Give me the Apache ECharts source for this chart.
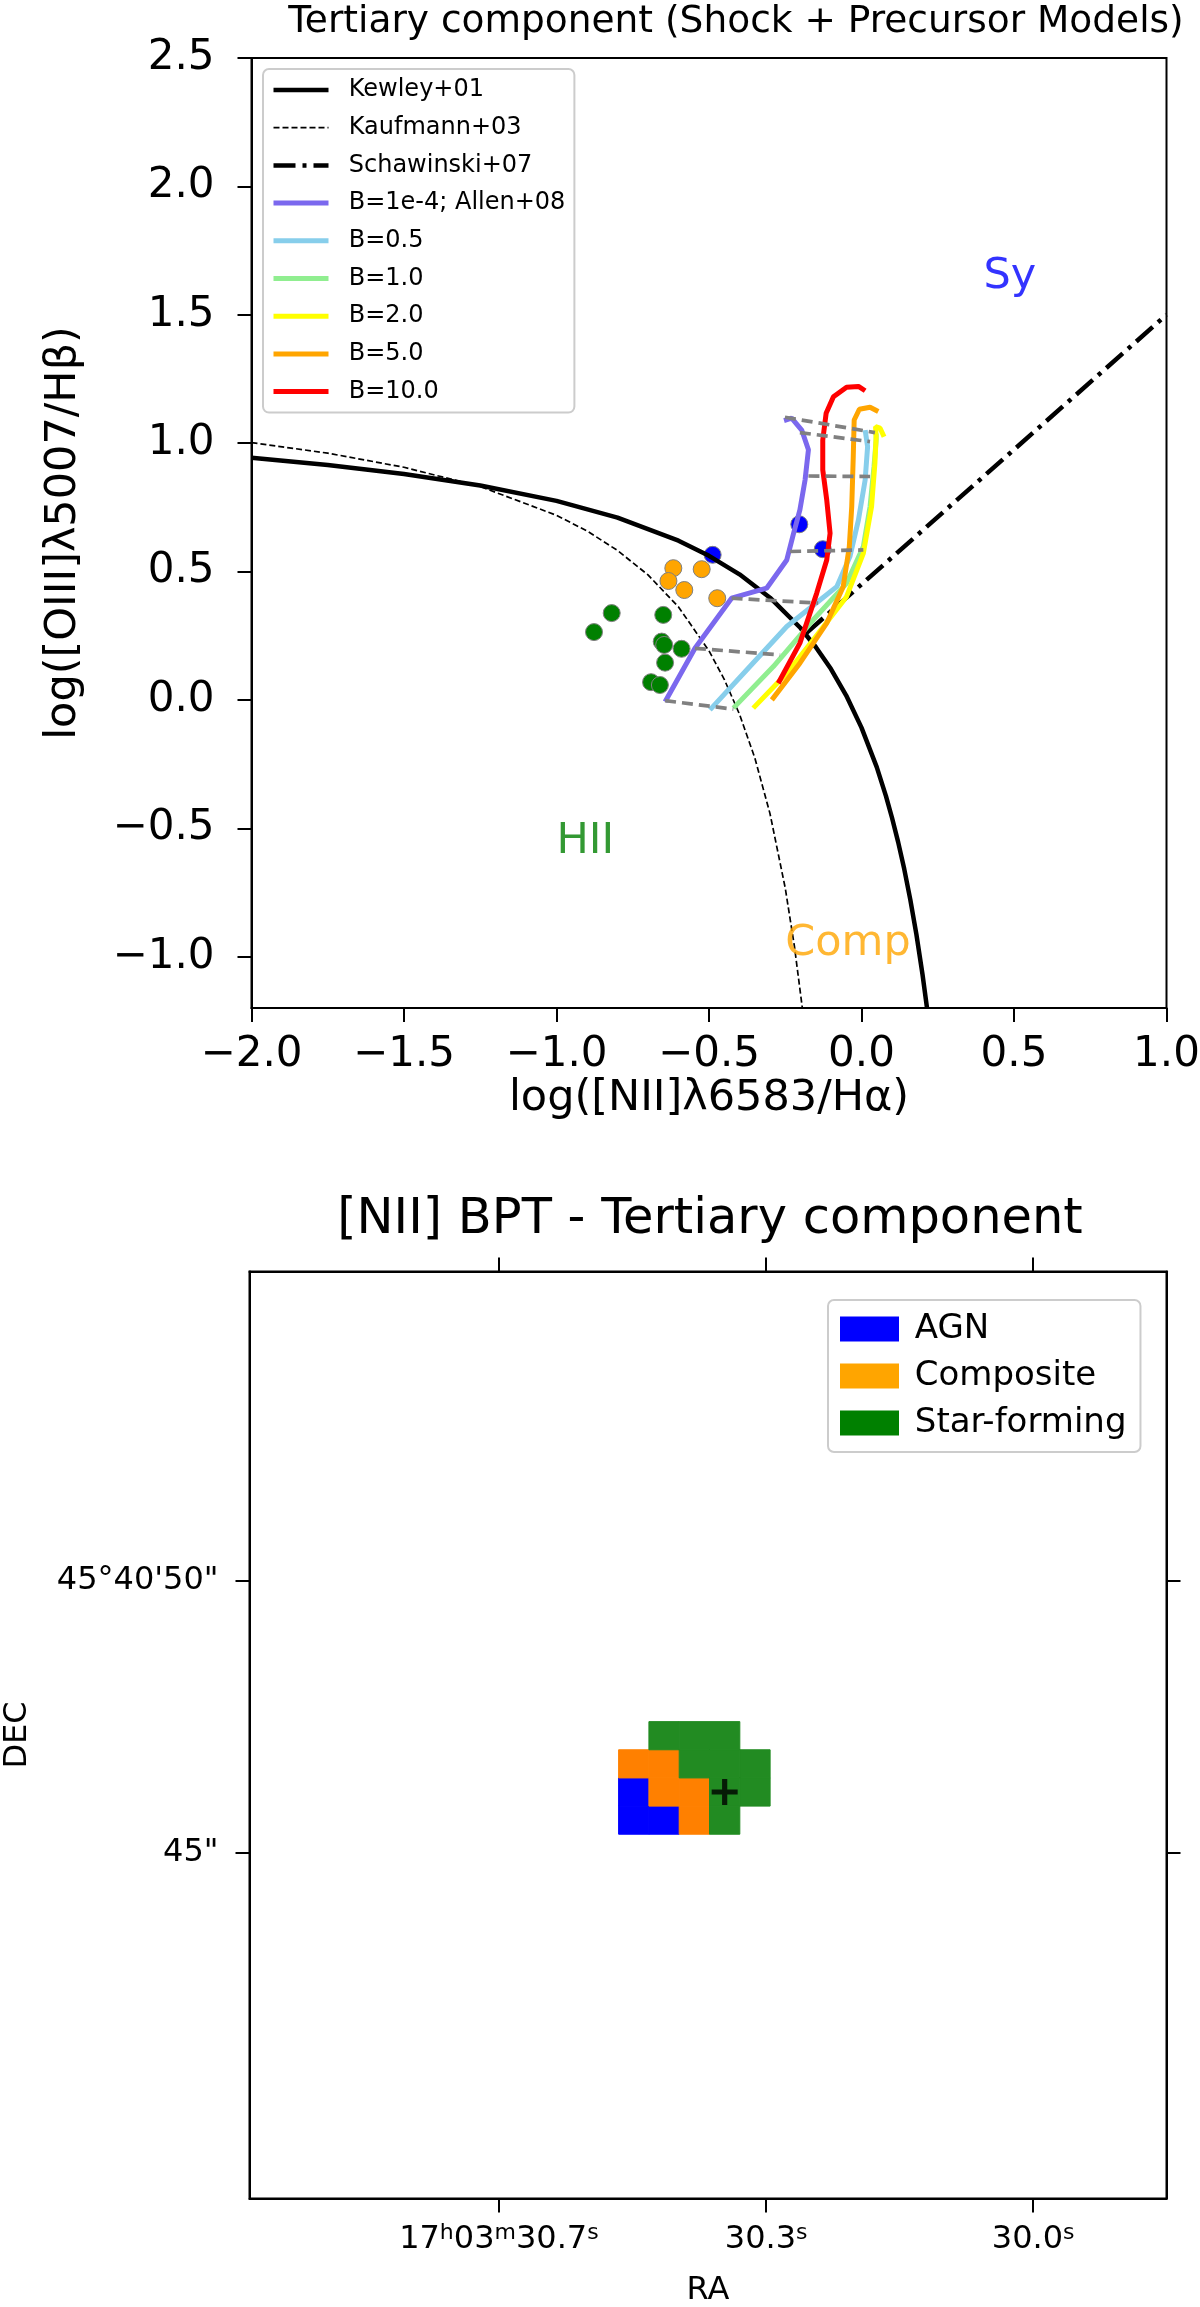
<!DOCTYPE html>
<html>
<head>
<meta charset="utf-8">
<script src="https://cdn.jsdelivr.net/npm/echarts@6.0.0/dist/echarts.min.js"></script>
<style>
  html, body { margin: 0; padding: 0; background: #fff; }
  #chart { width: 1200px; height: 2307px; }
</style>
</head>
<body>
<div id="chart"></div>
<script>
// ---- top panel: BPT diagram ----
var kewley01 = [[-2.0, 0.943], [-1.75, 0.915], [-1.5, 0.880], [-1.25, 0.835], [-1.0, 0.775], [-0.8, 0.710],
  [-0.6, 0.620], [-0.5, 0.561], [-0.4, 0.489], [-0.3, 0.398], [-0.2, 0.280], [-0.15, 0.206], [-0.1, 0.120],
  [-0.05, 0.017], [0.0, -0.108], [0.05, -0.262], [0.08, -0.374], [0.1, -0.459], [0.12, -0.553], [0.14, -0.658],
  [0.16, -0.778], [0.18, -0.913], [0.2, -1.069], [0.215, -1.202]];
var kauffmann03 = [[-2.0, 1.002], [-1.75, 0.961], [-1.5, 0.906], [-1.25, 0.831], [-1.0, 0.719], [-0.9, 0.658],
  [-0.8, 0.582], [-0.7, 0.487], [-0.6, 0.362], [-0.5, 0.191], [-0.45, 0.080], [-0.4, -0.056], [-0.35, -0.225],
  [-0.3, -0.443], [-0.25, -0.733], [-0.22, -0.959], [-0.194, -1.2]];
var schawinski07 = [[-0.18, 0.261], [1.0, 1.5]];

var trackB1e4 = [[-0.644, -0.007], [-0.546, 0.201], [-0.426, 0.396], [-0.311, 0.435], [-0.245, 0.545], [-0.224, 0.643],
  [-0.202, 0.740], [-0.185, 0.857], [-0.174, 0.974], [-0.196, 1.051], [-0.229, 1.097], [-0.254, 1.088]];
var trackB05 = [[-0.497, -0.039], [-0.366, 0.130], [-0.245, 0.286], [-0.136, 0.389], [-0.081, 0.441], [-0.038, 0.558],
  [-0.010, 0.701], [0.012, 0.857], [0.020, 0.986], [0.012, 1.051]];
var trackB1 = [[-0.420, -0.032], [-0.289, 0.130], [-0.158, 0.312], [-0.049, 0.454], [0.006, 0.597], [0.028, 0.753],
  [0.041, 0.909], [0.048, 1.012], [0.048, 1.038]];
var trackB2 = [[-0.355, -0.032], [-0.245, 0.104], [-0.158, 0.234], [-0.049, 0.402], [0.006, 0.571], [0.033, 0.753],
  [0.044, 0.922], [0.048, 1.025], [0.046, 1.064], [0.061, 1.058], [0.074, 1.025]];
var trackB5 = [[-0.294, 0.0], [-0.202, 0.143], [-0.114, 0.299], [-0.060, 0.441], [-0.040, 0.597], [-0.032, 0.753],
  [-0.027, 0.948], [-0.024, 1.090], [-0.007, 1.132], [0.028, 1.140], [0.055, 1.123]];
var trackB10 = [[-0.273, 0.065], [-0.202, 0.221], [-0.147, 0.415], [-0.114, 0.545], [-0.103, 0.649], [-0.114, 0.779],
  [-0.127, 0.896], [-0.127, 1.012], [-0.116, 1.116], [-0.092, 1.181], [-0.049, 1.218], [-0.010, 1.221], [0.012, 1.204]];

// gray dashed lines joining equal shock velocities
var velocityLinks = [
  [[-0.644, -0.003], [-0.420, -0.036]],
  [[-0.546, 0.201], [-0.267, 0.175]],
  [[-0.426, 0.396], [-0.142, 0.377]],
  [[-0.234, 0.578], [0.006, 0.584]],
  [[-0.174, 0.872], [0.028, 0.870]],
  [[-0.251, 1.101], [0.044, 1.041]],
  [[-0.202, 1.041], [0.028, 1.006]]
];

var agnPts = [[-0.488, 0.565], [-0.204, 0.684], [-0.127, 0.587]];
var compPts = [[-0.617, 0.513], [-0.524, 0.509], [-0.633, 0.463], [-0.581, 0.428], [-0.473, 0.396]];
var sfPts = [[-0.819, 0.338], [-0.877, 0.264], [-0.650, 0.331], [-0.655, 0.227], [-0.647, 0.214], [-0.590, 0.199],
  [-0.644, 0.145], [-0.690, 0.069], [-0.661, 0.058]];

var regionText = ['Sy', 'HII', 'Comp'];
var regionX = [0.4, -1.0, -0.25];
var regionY = [1.6, -0.6, -1.0];

var bptYTicks = [-1.0, -0.5, 0.0, 0.5, 1.0, 1.5, 2.0, 2.5];

// ---- bottom panel: classification map (pixel grid) ----
var mapCols = [12, 13, 14, 15, 16];
var mapRows = [16, 15, 14, 13];
var mapClass = [
  ['', 'SF', 'SF', 'SF', ''],
  ['C', 'C', 'SF', 'SF', 'SF'],
  ['A', 'C', 'C', 'SF', 'SF'],
  ['A', 'A', 'C', 'SF', '']
];
var centerPix = [15, 14];

var raTickPos = [7.55, 16.37, 25.18];
var raTickText = ['17{s|h}03{s|m}30.7{s|s}', '30.3{s|s}', '30.0{s|s}'];
var decTickPos = [11.83, 21.51];
var decTickText = ['45"', '45°40\'50"'];

var font = 'DejaVu Sans';

function fmtNum(v) {
  var s = Math.abs(v).toFixed(1);
  return v < -1e-9 ? '\u2212' + s : s;
}
function pickLabel(pos, text) {
  return function (v) {
    var best = 0;
    for (var i = 1; i < pos.length; i++) {
      if (Math.abs(pos[i] - v) < Math.abs(pos[best] - v)) best = i;
    }
    return text[best];
  };
}
function cellsOf(code) {
  var out = [];
  for (var r = 0; r < mapRows.length; r++) {
    for (var c = 0; c < mapCols.length; c++) {
      if (mapClass[r][c] === code) out.push([mapCols[c], mapRows[r]]);
    }
  }
  return out;
}
function renderCell(params, api) {
  var p0 = api.coord([api.value(0) - 0.5, api.value(1) + 0.5]);
  var p1 = api.coord([api.value(0) + 0.5, api.value(1) - 0.5]);
  var c = api.visual('color');
  return {
    type: 'rect',
    shape: { x: p0[0], y: p0[1], width: p1[0] - p0[0], height: p1[1] - p0[1] },
    style: { fill: c, stroke: c, lineWidth: 1 }
  };
}

var axisLine = { show: true, onZero: false, lineStyle: { color: '#000', width: 2 } };
var tick = { show: true, length: 14, lineStyle: { color: '#000', width: 2 } };

function modelLine(name, data, color) {
  return {
    name: name, type: 'line', data: data, xAxisIndex: 0, yAxisIndex: 0,
    symbol: 'none', z: 4, lineStyle: { color: color, width: 5 }, itemStyle: { color: color }
  };
}

var series = [
  { name: 'Kewley+01', type: 'line', data: kewley01, symbol: 'none', z: 3,
    lineStyle: { color: '#000', width: 4.5 }, itemStyle: { color: '#000' } },
  { name: 'Kaufmann+03', type: 'line', data: kauffmann03, symbol: 'none', z: 3,
    lineStyle: { color: '#000', width: 1.7, type: [6, 3] }, itemStyle: { color: '#000' } },
  { name: 'Schawinski+07', type: 'line', data: schawinski07, symbol: 'none', z: 3,
    lineStyle: { color: '#000', width: 4.5, type: [22, 7, 4, 7] }, itemStyle: { color: '#000' } },
  modelLine('B=1e-4; Allen+08', trackB1e4, '#7b68ee'),
  modelLine('B=0.5', trackB05, '#87ceeb'),
  modelLine('B=1.0', trackB1, '#90ee90'),
  modelLine('B=2.0', trackB2, '#ffff00'),
  modelLine('B=5.0', trackB5, '#ffa500'),
  modelLine('B=10.0', trackB10, '#ff0000')
];
velocityLinks.forEach(function (seg, i) {
  series.push({ name: 'vel' + i, type: 'line', data: seg, symbol: 'none', z: 5,
    lineStyle: { color: '#808080', width: 3.7, type: [11, 6] } });
});
[['AGN pts', agnPts, '#0000ff'], ['Comp pts', compPts, '#ffa500'], ['SF pts', sfPts, '#008000']].forEach(function (s) {
  series.push({ name: s[0], type: 'scatter', data: s[1], symbolSize: 17, z: 1,
    itemStyle: { color: s[2], borderColor: '#808080', borderWidth: 1, opacity: 1 } });
});
var regionColors = ['#0000ff', '#008000', '#ffa500'];
series.push({
  name: 'regions', type: 'scatter', symbolSize: 0, z: 6,
  data: regionText.map(function (t, i) {
    return { value: [regionX[i], regionY[i]], name: t, label: { color: regionColors[i] } };
  }),
  label: { show: true, formatter: '{b}', position: [0, 0], align: 'left', verticalAlign: 'bottom',
    offset: [0, 9], fontSize: 43, fontFamily: font }
});

// map cells
[['AGN', 'A', '#0000ff'], ['Composite', 'C', '#ff8000'], ['Star-forming', 'SF', '#228b22']].forEach(function (s) {
  series.push({ name: s[0], type: 'custom', xAxisIndex: 1, yAxisIndex: 1, data: cellsOf(s[1]),
    renderItem: renderCell, itemStyle: { color: s[2] }, z: 2 });
});
series.push({ name: 'center', type: 'scatter', xAxisIndex: 1, yAxisIndex: 1, data: [centerPix],
  symbol: 'path://M4,0H6V4H10V6H6V10H4V6H0V4H4Z', symbolSize: 26, itemStyle: { color: '#000' }, z: 6 });

var option = {
  animation: false,
  backgroundColor: '#fff',
  title: [
    { text: 'Tertiary component (Shock + Precursor Models)', left: 736, top: 3, textAlign: 'center', padding: 0,
      textStyle: { fontSize: 37.5, fontWeight: 'normal', color: '#000', fontFamily: font } },
    { text: '[NII] BPT - Tertiary component', left: 710, top: 1195, textAlign: 'center', padding: 0,
      textStyle: { fontSize: 49.5, fontWeight: 'normal', color: '#000', fontFamily: font } }
  ],
  legend: [
    { orient: 'vertical', left: 263, top: 69, itemWidth: 55, itemHeight: 14, itemGap: 13.7,
      padding: [9, 9, 9, 8], backgroundColor: '#fff', borderColor: '#cccccc', borderWidth: 2, borderRadius: 6,
      selectedMode: false, formatter: '  {name}', itemStyle: { opacity: 0 }, lineStyle: { width: 'inherit' },
      textStyle: { fontSize: 24, color: '#000', fontFamily: font },
      data: ['Kewley+01', 'Kaufmann+03', 'Schawinski+07', 'B=1e-4; Allen+08', 'B=0.5', 'B=1.0', 'B=2.0', 'B=5.0', 'B=10.0'] },
    { orient: 'vertical', left: 828, top: 1300, itemWidth: 59, itemHeight: 25, itemGap: 13,
      padding: [12, 14, 12, 12], backgroundColor: '#fff', borderColor: '#cccccc', borderWidth: 2, borderRadius: 6,
      selectedMode: false, formatter: ' {name}',
      textStyle: { fontSize: 34, color: '#000', fontFamily: font },
      data: [
        { name: 'AGN', icon: 'rect', itemStyle: { color: '#0000ff' } },
        { name: 'Composite', icon: 'rect', itemStyle: { color: '#ffa500' } },
        { name: 'Star-forming', icon: 'rect', itemStyle: { color: '#008000' } }
      ] }
  ],
  grid: [
    { left: 251.5, top: 58, width: 915, height: 950, show: true, borderColor: '#000', borderWidth: 2, outerBoundsMode: 'none' },
    { left: 249.5, top: 1271.5, width: 917, height: 927, show: true, borderColor: '#000', borderWidth: 2, outerBoundsMode: 'none' }
  ],
  xAxis: [
    { gridIndex: 0, type: 'value', min: -2, max: 1, interval: 0.5, axisLine: axisLine, axisTick: tick,
      splitLine: { show: false },
      axisLabel: { fontSize: 42, color: '#000', fontFamily: font, margin: 26, formatter: fmtNum },
      name: 'log([NII]λ6583/Hα)', nameLocation: 'middle', nameGap: 62,
      nameTextStyle: { fontSize: 43, color: '#000', fontFamily: font } },
    { gridIndex: 1, type: 'value', min: -0.68, max: 29.58, axisLine: axisLine,
      axisTick: Object.assign({ customValues: raTickPos }, tick), splitLine: { show: false },
      axisLabel: { customValues: raTickPos, fontSize: 32, lineHeight: 34, color: '#000', fontFamily: font, margin: 24,
        formatter: pickLabel(raTickPos, raTickText),
        rich: { s: { fontSize: 22, lineHeight: 22, verticalAlign: 'top', color: '#000', fontFamily: font } } },
      name: 'RA', nameLocation: 'middle', nameGap: 76,
      nameTextStyle: { fontSize: 32, color: '#000', fontFamily: font } },
    { gridIndex: 1, type: 'value', position: 'top', min: -0.68, max: 29.58, axisLine: axisLine,
      axisTick: Object.assign({ customValues: raTickPos }, tick), splitLine: { show: false },
      axisLabel: { show: false } }
  ],
  yAxis: [
    { gridIndex: 0, type: 'value', min: -1.2, max: 2.5, axisLine: axisLine,
      axisTick: Object.assign({ customValues: bptYTicks }, tick), splitLine: { show: false },
      axisLabel: { customValues: bptYTicks, fontSize: 42, color: '#000', fontFamily: font, margin: 37, formatter: fmtNum },
      name: 'log([OIII]λ5007/Hβ)', nameLocation: 'middle', nameRotate: 90, nameGap: 166,
      nameTextStyle: { fontSize: 43, color: '#000', fontFamily: font } },
    { gridIndex: 1, type: 'value', min: -0.44, max: 32.49, axisLine: axisLine,
      axisTick: Object.assign({ customValues: decTickPos }, tick), splitLine: { show: false },
      axisLabel: { customValues: decTickPos, fontSize: 32, color: '#000', fontFamily: font, margin: 31,
        formatter: pickLabel(decTickPos, decTickText) },
      name: 'DEC', nameLocation: 'middle', nameRotate: 90, nameGap: 216,
      nameTextStyle: { fontSize: 32, color: '#000', fontFamily: font } },
    { gridIndex: 1, type: 'value', position: 'right', min: -0.44, max: 32.49, axisLine: axisLine,
      axisTick: Object.assign({ customValues: decTickPos }, tick), splitLine: { show: false },
      axisLabel: { show: false } }
  ],
  series: series
};

var chart = echarts.init(document.getElementById('chart'));
chart.setOption(option);
</script>
</body>
</html>
